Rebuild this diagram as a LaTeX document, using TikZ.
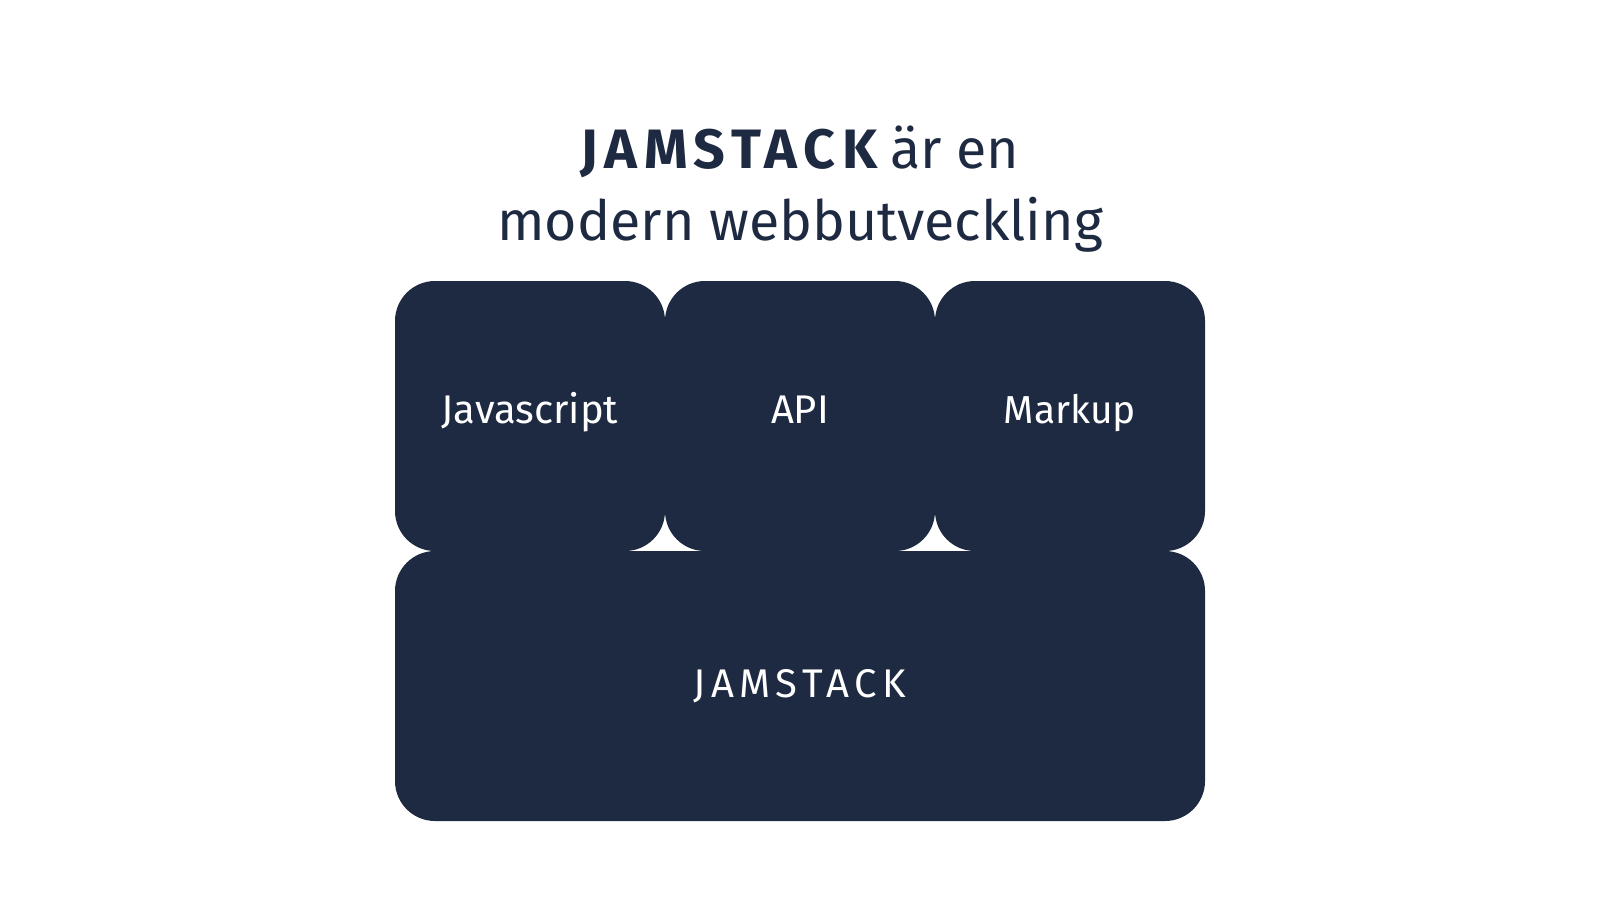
\documentclass[tikz,border=0pt]{standalone}
\usepackage{fontspec}
\setmainfont{Fira Sans}
\newfontfamily\spacedfont[LetterSpace=14]{Fira Sans}
\definecolor{navy}{HTML}{1E2A42}
\begin{document}
\begin{tikzpicture}[x=1pt,y=-1pt,
  block/.style={fill=navy,draw=none,rounded corners=40pt,inner sep=0pt,minimum width=270pt,minimum height=270pt},
  wide/.style={block,minimum width=810pt},
  lbl/.style={text=white,font=\fontsize{40}{48}\selectfont,anchor=base,inner sep=0pt},
  ttl/.style={text=navy,font=\fontsize{55.5}{66}\selectfont,anchor=base,inner sep=0pt}]
\useasboundingbox[fill=white] (0,0) rectangle (1600,900);
\node[block] (js) at (530,416) {};
\node[block] (api) at (800,416) {};
\node[block] (mk) at (1070,416) {};
\node[wide] (jam) at (800,686) {};
\node[lbl] (tjs) at (530,423) {Javascript};
\node[lbl] (tapi) at (800,423) {API};
\node[lbl,font=\fontsize{39}{48}\selectfont] (tmk) at (1070,423) {Markup};
\node[lbl,font=\fontsize{40}{48}\spacedfont] (tjam) at (800,697) {JAMSTACK};
\node[ttl] (t1) at (800,168) {{\bfseries\addfontfeature{LetterSpace=12}JAMSTACK}\kern-2pt{} är en};
\node[ttl] (t2) at (800,240) {modern webbutveckling};
\end{tikzpicture}
\end{document}
